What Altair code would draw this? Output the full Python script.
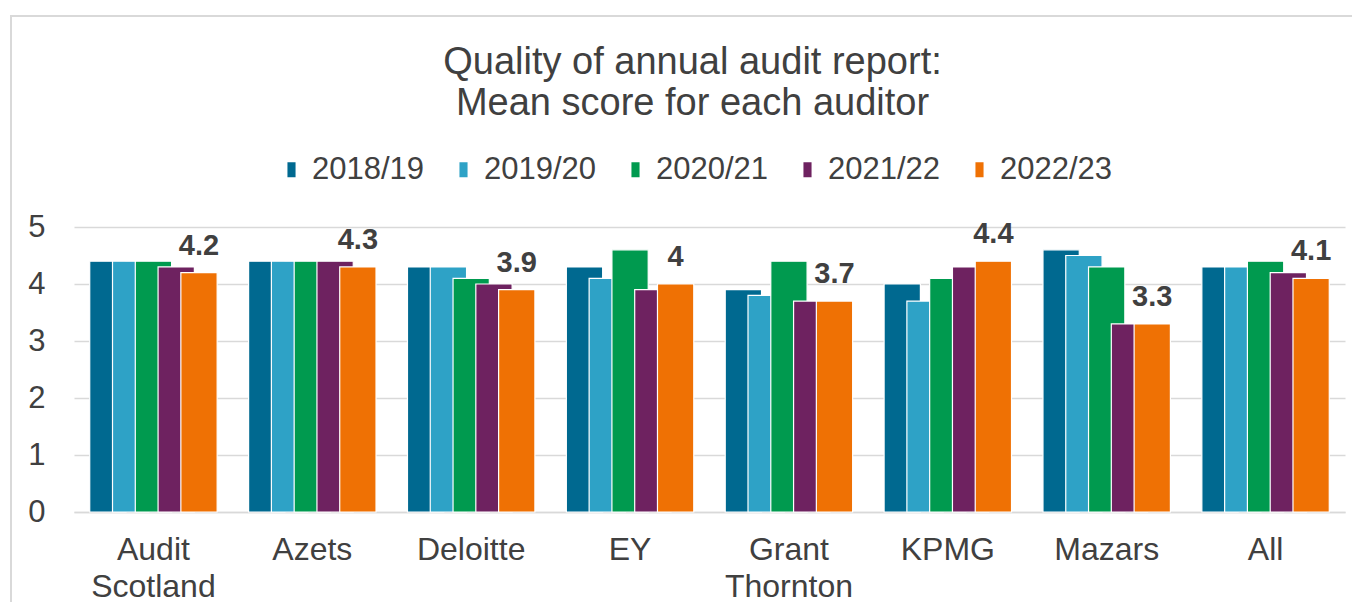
import altair as alt
import pandas as pd

auditors = ["Audit Scotland", "Azets", "Deloitte", "EY", "Grant Thornton", "KPMG", "Mazars", "All"]
years = ["2018/19", "2019/20", "2020/21", "2021/22", "2022/23"]
s_2018 = [4.4, 4.4, 4.3, 4.3, 3.9, 4.0, 4.6, 4.3]
s_2019 = [4.4, 4.4, 4.3, 4.1, 3.8, 3.7, 4.5, 4.3]
s_2020 = [4.4, 4.4, 4.1, 4.6, 4.4, 4.1, 4.3, 4.4]
s_2021 = [4.3, 4.4, 4.0, 3.9, 3.7, 4.3, 3.3, 4.2]
s_2022 = [4.2, 4.3, 3.9, 4.0, 3.7, 4.4, 3.3, 4.1]
colors = ["#006990", "#2ea2c6", "#009a4f", "#6e2260", "#ef7104"]

series = [s_2018, s_2019, s_2020, s_2021, s_2022]
rows = []
for yr, vals in zip(years, series):
    for a, v in zip(auditors, vals):
        rows.append({"auditor": a, "year": yr, "score": v, "label": f"{v:g}"})
df = pd.DataFrame(rows)

FONT = "Liberation Sans"
TXT = "#404040"
W, H = 1271, 285

x_enc = alt.X("auditor:N", sort=auditors, title=None,
              scale=alt.Scale(paddingInner=0.283, paddingOuter=0.1415),
              axis=alt.Axis(labelAngle=0, labelExpr="split(datum.label, ' ')",
                            labelFontSize=32, labelColor=TXT, labelFont=FONT,
                            labelLineHeight=37, labelPadding=22, ticks=False,
                            domainColor="#d9d9d9", domainWidth=1.5, grid=False))
xo_enc = alt.XOffset("year:N", sort=years)
y_enc = alt.Y("score:Q", title=None, scale=alt.Scale(domain=[0, 5], nice=False),
              axis=alt.Axis(values=[0, 1, 2, 3, 4, 5], format="d", domain=False, ticks=False,
                            gridColor="#d9d9d9", gridWidth=1.5, labelFontSize=31,
                            labelColor=TXT, labelFont=FONT, labelPadding=29))

bars = alt.Chart(df).mark_bar(width=36.3, stroke="white", strokeWidth=1.2).encode(
    x=x_enc,
    xOffset=xo_enc,
    y=y_enc,
    color=alt.Color("year:N", sort=years, title=None,
                    scale=alt.Scale(domain=years, range=colors),
                    legend=alt.Legend(orient="none", legendX=202, legendY=-73, direction="horizontal",
                                      symbolType="M-0.54,-1H0.54V1H-0.54Z", symbolSize=225,
                                      symbolStrokeWidth=0, labelFontSize=31, labelColor=TXT,
                                      labelFont=FONT, labelOffset=5, columnPadding=23,
                                      padding=0)),
)

labels = alt.Chart(df).transform_filter(alt.datum.year == "2022/23").mark_text(
    fontWeight="bold", fontSize=29, font=FONT, color=TXT, baseline="bottom", dy=-12
).encode(
    x=alt.X("auditor:N", sort=auditors),
    xOffset=alt.XOffset("year:N", sort=years),
    y=alt.Y("score:Q"),
    text="label:N",
)

frame = alt.Chart(pd.DataFrame({"f": [0]})).mark_rect(
    fill=None, stroke="#d9d9d9", strokeWidth=2, clip=False
).encode(
    x=alt.value(-63), x2=alt.value(W + 60), y=alt.value(-211), y2=alt.value(H + 120)
)

chart = alt.layer(frame, bars, labels).properties(
    width=W, height=H,
    autosize=alt.AutoSizeParams(type="none"),
    padding={"left": 66, "top": 219, "right": 7, "bottom": 90},
    title=alt.TitleParams(["Quality of annual audit report:", "Mean score for each auditor"],
                          fontSize=38, font=FONT, color=TXT, fontWeight="normal",
                          anchor="middle", lineHeight=41, offset=-108, dx=-17),
).configure_view(stroke=None)

chart.save("out.html", embed_options={"renderer": "svg", "actions": False})
